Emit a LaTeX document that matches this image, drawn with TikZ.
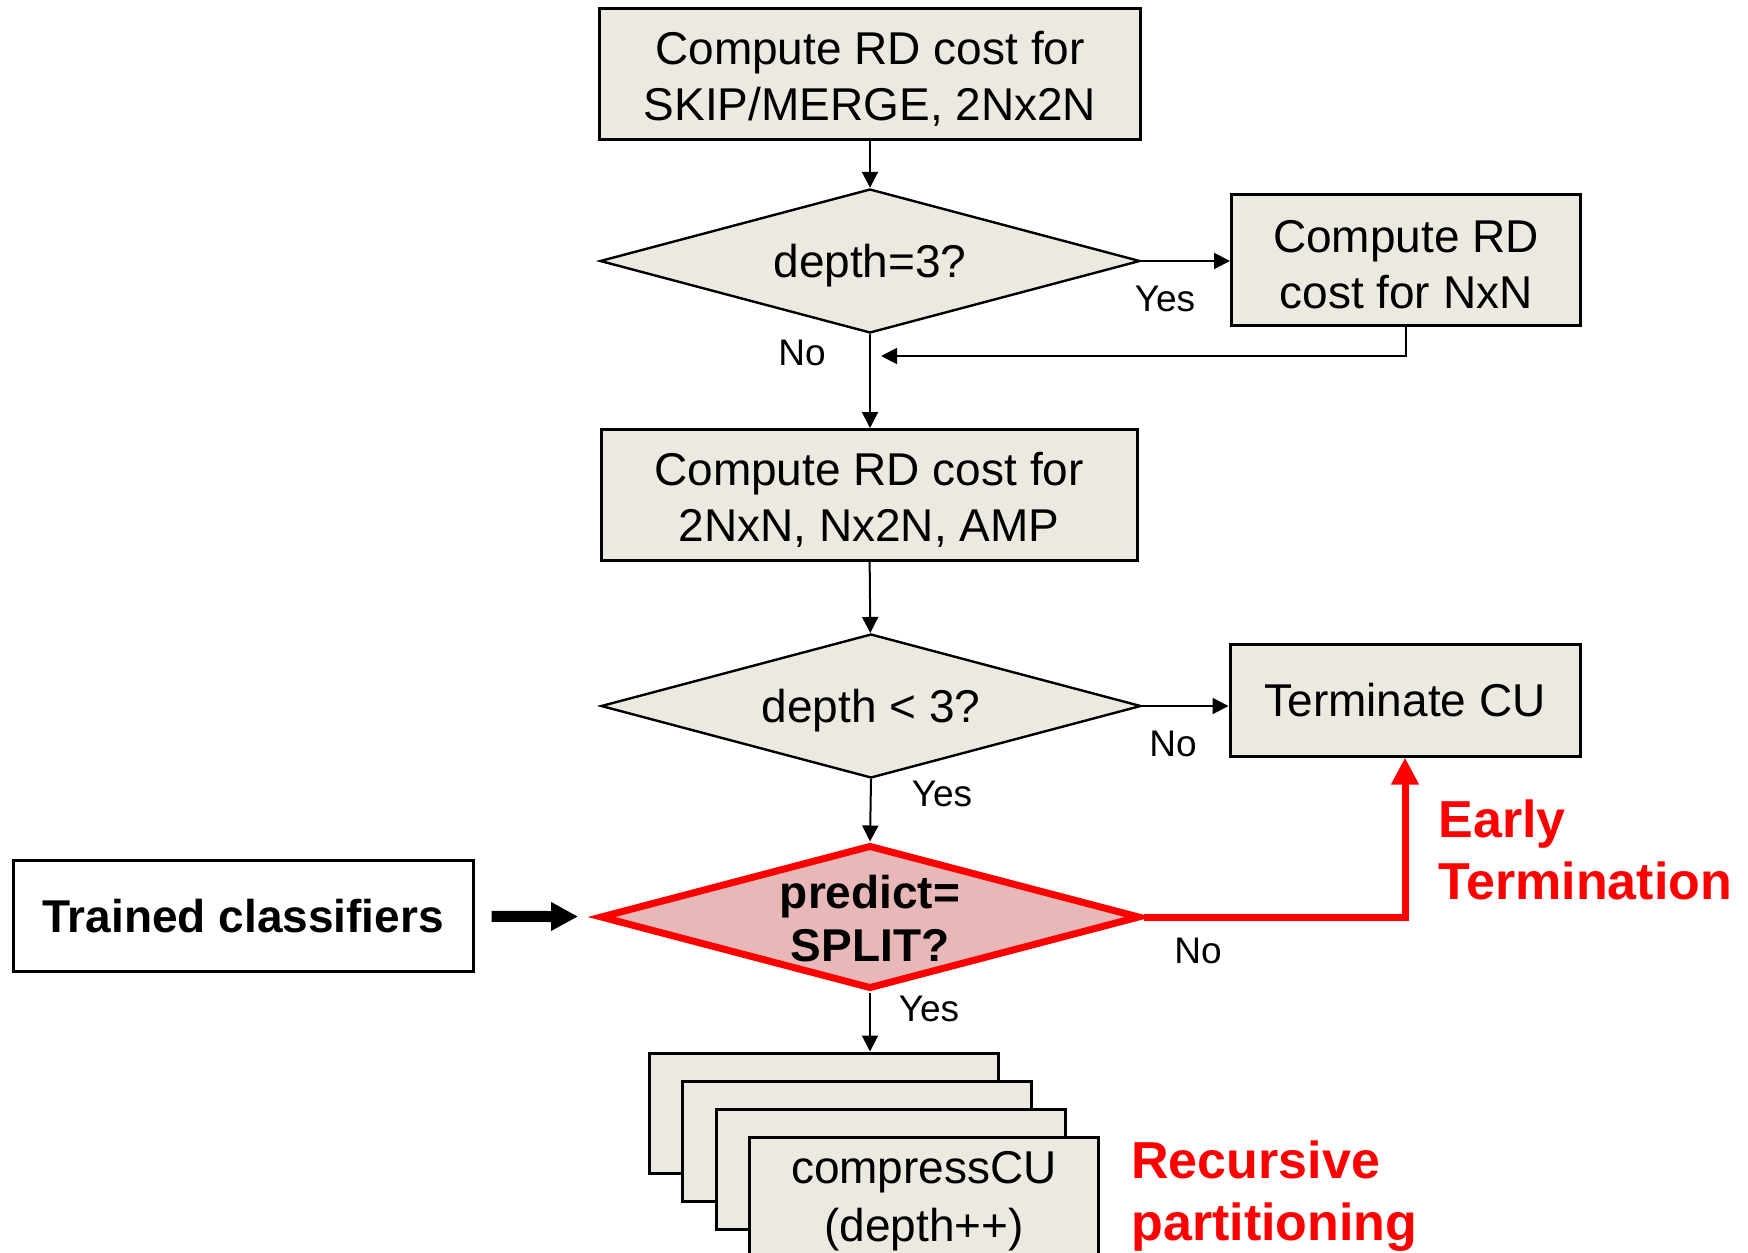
\documentclass[tikz,border=0pt]{standalone}
\usepackage{fontspec}
\setmainfont{Liberation Sans}
\usetikzlibrary{shapes.geometric,arrows.meta}
\definecolor{boxfill}{HTML}{ECEAE0}
\definecolor{predfill}{HTML}{E8B8B8}
\definecolor{alertred}{HTML}{FF0000}

\begin{document}
\begin{tikzpicture}[x=0.5pt,y=-0.5pt,
  font=\fontsize{23}{28}\selectfont,
  proc/.style={draw, line width=1.5pt, fill=boxfill, align=center, inner sep=0pt},
  btext/.style={align=center, inner sep=0pt, yshift=-2.2pt},
  decision/.style={diamond, draw, line width=1.2pt, fill=boxfill,
    inner sep=0pt, minimum width=270pt, minimum height=72pt},
  dtext/.style={align=center, inner sep=0pt, yshift=-2.5pt},
  conn/.style={line width=1pt, -{Triangle[length=8pt,width=8pt]}},
  lbl/.style={font=\fontsize{18.5}{22}\selectfont, inner sep=0pt},
  redlbl/.style={font=\fontsize{26}{31}\selectfont\bfseries, text=alertred,
    align=left, inner sep=0pt, anchor=west},
  stackbox/.style={proc, minimum width=174.5pt, minimum height=60pt}
]
\clip (0,0) rectangle (1748,1252);

% main column
\node[proc, minimum width=270.5pt, minimum height=65pt] (box1) at (870,74) {};
\node[btext] (box1t) at (box1) {Compute RD cost for\\SKIP/MERGE, 2Nx2N};
\node[decision] (d1) at (870,261) {};
\node[dtext] (d1t) at (d1) {depth=3?};
\node[proc, minimum width=174.5pt, minimum height=65.5pt] (nxn) at (1406,260) {};
\node[btext] (nxnt) at (nxn) {Compute RD\\cost for NxN};
\node[proc, minimum width=268pt, minimum height=65.5pt] (box2) at (869,495) {};
\node[btext] (box2t) at (box2) {Compute RD cost for\\2NxN, Nx2N, AMP};
\node[decision] (d2) at (871,706) {};
\node[dtext] (d2t) at (d2) {depth < 3?};
\node[proc, minimum width=175pt, minimum height=56pt] (term) at (1405,700)
  {Terminate CU};
\node[decision, fill=predfill, draw=alertred, line width=3.5pt] (d3) at (870,917) {};
\node[dtext, yshift=1.8pt, font=\fontsize{23}{26.5}\selectfont\bfseries] (d3t) at (d3)
  {predict=\\SPLIT?};
\node[proc, fill=white, minimum width=230pt, minimum height=55.5pt,
  font=\fontsize{23}{28}\selectfont\bfseries] (trained) at (243,916)
  {Trained classifiers};

% stacked recursive calls
\node[stackbox] (sa) at (823.5,1113) {};
\node[stackbox] (sb) at (857,1141) {};
\node[stackbox] (sc) at (890.5,1169) {};
\node[stackbox] (sd) at (924,1197) {};
\node[btext, font=\fontsize{23}{29}\selectfont] (sdt) at (sd) {compressCU\\(depth++)};

% connectors
\coordinate (ret) at (881,356);
\draw[conn] (box1) -- (d1);
\draw[conn] (d1.east) -- (nxn.west |- d1.east);
\draw[conn] (nxn.south) |- (ret);
\draw[conn] (d1.south) -- (box2.north -| d1.south);
\draw[conn] (box2) -- (d2);
\draw[conn] (d2.east) -- (term.west |- d2.east);
\draw[conn] (d2.south) -- (d3.north);
\draw[conn] (d3.south) -- (d3.south |- sa.north);
\draw[line width=5.5pt, -{Triangle[length=13.5pt,width=13.5pt]},
  shorten <=8.5pt, shorten >=10pt] (trained) -- (d3);
\draw[alertred, line width=3.5pt, -{Triangle[length=13.5pt,width=13pt]}]
  (d3.east) -| (term.south);

% branch labels
\node[lbl] (l1) at (1165,299) {Yes};
\node[lbl] (l2) at (802,353) {No};
\node[lbl] (l3) at (1173,744) {No};
\node[lbl] (l4) at (942,794) {Yes};
\node[lbl] (l5) at (1198,951) {No};
\node[lbl] (l6) at (929,1009) {Yes};

% annotations
\node[redlbl] (early) at (1438,850) {Early\\Termination};
\node[redlbl] (recur) at (1131,1196) {Recursive\\partitioning};
\end{tikzpicture}
\end{document}
